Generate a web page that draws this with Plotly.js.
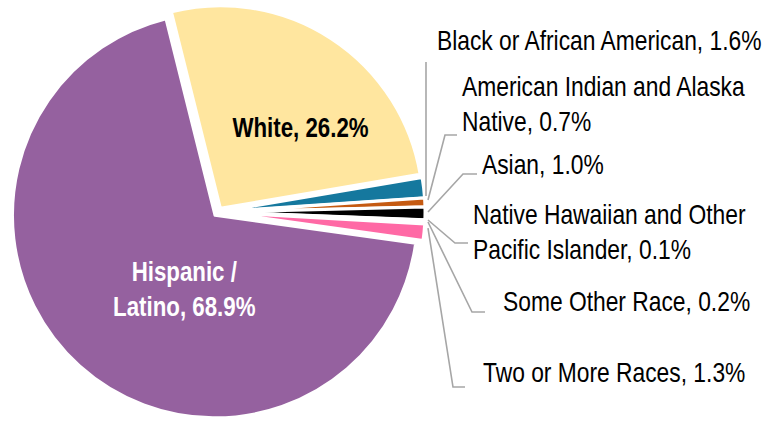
<!DOCTYPE html>
<html><head><meta charset="utf-8">
<script src="https://cdn.plot.ly/plotly-3.0.1.min.js"></script>
<style>html,body{margin:0;padding:0;background:#fff}#chart{width:772px;height:422px}</style>
</head><body><div id="chart"></div>
<script>
// ---- data ----
const categories = ["White","Black or African American","American Indian and Alaska Native","Asian","Native Hawaiian and Other Pacific Islander","Some Other Race","Two or More Races","Hispanic / Latino"];
const shares = [26.2, 1.6, 0.7, 1.0, 0.1, 0.2, 1.3, 68.9];
const displayNames = ["White","Black or African American","American Indian and Alaska<br>Native","Asian","Native Hawaiian and Other<br>Pacific Islander","Some Other Race","Two or More Races","Hispanic /<br>Latino"];
const sliceColors = ["#FFE69F","#15789E","#C55A11","#000000","#FFFFFF","#FFFFFF","#FF69A5","#95619F"];

// ---- layout helpers ----
const W = 772, H = 422, M = {l:0, r:0, t:5, b:3};
const PW = W - M.l - M.r, PH = H - M.t - M.b;
const px = x => (x - M.l) / PW;
const py = y => 1 - (y - M.t) / PH;

const FONT = "'Liberation Sans',Arial,sans-serif";
const NARROW_REG = 0.845, NARROW_BOLD = 0.825; // emulate Arial Narrow look
const labelText = displayNames.map((n, i) => n + ", " + shares[i].toFixed(1) + "%");

// label placement (pixels): [x, y, xanchor, color, bold]
const labelPos = [
  [300, 128, 'center', '#000', true],
  [435, 41, 'left', '#000', false],
  [460, 105, 'left', '#000', false],
  [480, 165, 'left', '#000', false],
  [471, 232, 'left', '#000', false],
  [501, 302, 'left', '#000', false],
  [481, 373, 'left', '#000', false],
  [184, 289, 'center', '#fff', true]
];
const annotations = labelPos.map((p, i) => ({
  x: px(p[0]), y: py(p[1]), xref: 'paper', yref: 'paper',
  xanchor: p[2], yanchor: 'middle', align: p[2] === 'left' ? 'left' : 'center',
  showarrow: false,
  text: p[4] ? '<b>' + labelText[i] + '</b>' : labelText[i],
  font: {family: FONT, size: 27, color: p[3]}
}));

// leader lines (pixels)
const leaders = [
  [[426,62],[426,196]],
  [[457,135],[445,135],[428,200]],
  [[477,174],[463,174],[428,212]],
  [[468,243],[455,243],[428,220]],
  [[485,312],[472,312],[428,222]],
  [[465,387],[453,387],[428,228]]
];
const shapes = leaders.map(pts => ({
  type: 'path', xref: 'paper', yref: 'paper',
  path: pts.map((p, k) => (k ? 'L' : 'M') + px(p[0]).toFixed(5) + ',' + py(p[1]).toFixed(5)).join(' '),
  line: {color: '#A6A6A6', width: 1.6}
}));

const trace = {
  type: 'pie',
  labels: categories,
  values: shares,
  sort: false,
  direction: 'clockwise',
  rotation: -14,
  pull: shares.map(() => 0.022),
  marker: {colors: sliceColors, line: {color: '#FFFFFF', width: 3}},
  textinfo: 'none',
  hoverinfo: 'label+percent',
  domain: {x: [px(218 - 207), px(218 + 207)], y: [0, 1]},
  showlegend: false
};

const layout = {
  width: W, height: H,
  margin: M,
  paper_bgcolor: '#fff', plot_bgcolor: '#fff',
  showlegend: false,
  annotations: annotations,
  shapes: shapes
};

function condense() {
  document.querySelectorAll('#chart text.annotation-text').forEach(t => {
    const bold = !!t.querySelector('tspan[style*="bold"]');
    const s = bold ? NARROW_BOLD : NARROW_REG;
    const bb = t.getBBox();
    const anchor = t.getAttribute('text-anchor');
    const ax = anchor === 'middle' ? bb.x + bb.width / 2 : bb.x;
    const prev = t.getAttribute('transform') || '';
    t.setAttribute('transform', prev + ` translate(${ax},0) scale(${s},1) translate(${-ax},0)`);
  });
}
Plotly.newPlot('chart', [trace], layout, {displayModeBar: false, staticPlot: true}).then(condense);
</script>
</body></html>
